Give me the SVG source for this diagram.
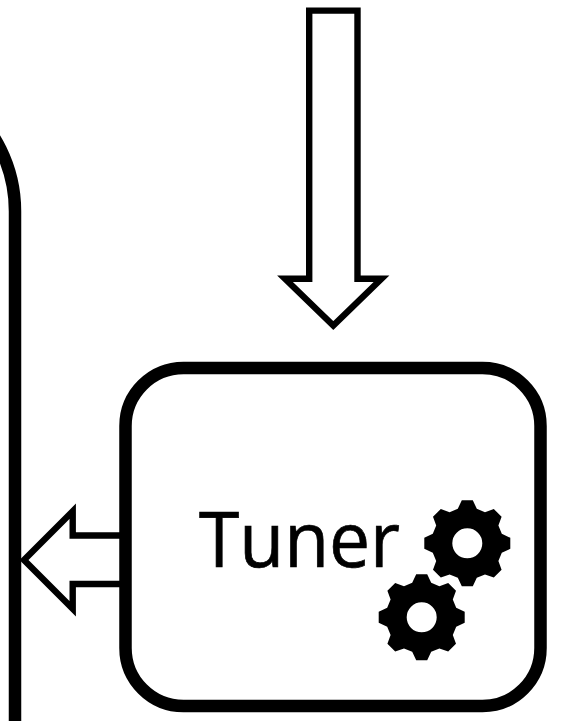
<svg xmlns="http://www.w3.org/2000/svg" width="564" height="721" viewBox="0 0 564 721">
<style>
.thick{fill:none;stroke:#000;stroke-width:12.5}
.box{fill:#fff;stroke:#000;stroke-width:12.5}
.arrow{fill:#fff;stroke:#000;stroke-width:6.4;stroke-miterlimit:10}
.label{font-family:"Open Sans","Lato",sans-serif;font-size:76px;fill:#000;stroke:#000;stroke-width:.7}
.gear{fill:#000;fill-rule:evenodd}
</style>
<defs>
<path id="gear" class="gear" d="M-9.5-34.5L-5.5-43L5.5-43L9.5-34.5L17.7-31.1L26.5-34.3L34.3-26.5L31.1-17.7L34.5-9.5L43-5.5L43 5.5L34.5 9.5L31.1 17.7L34.3 26.5L26.5 34.3L17.7 31.1L9.5 34.5L5.5 43L-5.5 43L-9.5 34.5L-17.7 31.1L-26.5 34.3L-34.3 26.5L-31.1 17.7L-34.5 9.5L-43 5.5L-43-5.5L-34.5-9.5L-31.1-17.7L-34.3-26.5L-26.5-34.3L-17.7-31.1ZM15 0A15 15 0 1 0-15 0A15 15 0 1 0 15 0Z"/>
</defs>
<rect width="564" height="721" fill="#fff"/>
<g id="left-panel">
<path class="thick" d="M-40 100A140 140 0 0 1 15 212V730"/>
</g>
<g id="connectors">
<path class="arrow" d="M309.2 10.6H357.5V278.7H381.5L333.3 325.5L285 278.7H309.2Z"/>
<path class="arrow" d="M125 535.5H72.7V511.3L24 560L72.7 608.7V584H125"/>
</g>
<g id="tuner">
<rect class="box" x="125.5" y="368" width="415" height="338" rx="58" ry="58"/>
<text class="label" x="199" y="566.7" textLength="201" lengthAdjust="spacingAndGlyphs">Tuner</text>
<use href="#gear" x="467.3" y="543.3"/>
<use href="#gear" x="421.7" y="617.3"/>
</g>
</svg>
